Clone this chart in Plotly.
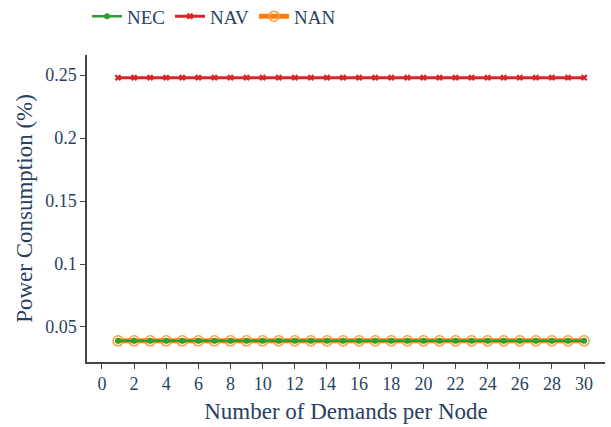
import plotly.graph_objects as go

demands = list(range(1, 31))
nec = [0.039] * 30
nav = [0.248] * 30
nan_ = [0.039] * 30

fig = go.Figure()
fig.add_trace(go.Scatter(x=demands, y=nan_, name="NAN", mode="lines+markers", legendrank=3,
                         line=dict(color="#ff7f0e", width=5),
                         marker=dict(symbol="circle-open", size=10, color="#ff9a45", line=dict(width=1.5))))
fig.add_trace(go.Scatter(x=demands, y=nec, name="NEC", mode="lines+markers", legendrank=1,
                         line=dict(color="#2ca02c", width=2.5),
                         marker=dict(symbol="circle", size=6, color="#2ca02c")))
fig.add_trace(go.Scatter(x=demands, y=nav, name="NAV", mode="lines+markers", legendrank=2,
                         line=dict(color="#d62728", width=3),
                         marker=dict(symbol="x", size=6, color="#d62728")))

fig.update_layout(
    width=611, height=434,
    margin=dict(l=87, r=6, t=62, b=65),
    plot_bgcolor="white", paper_bgcolor="white",
    font=dict(family="Liberation Serif", size=18, color="#2a3f5f"),
    legend=dict(orientation="h", x=0.0, y=0.99, yref="container", xanchor="left", yanchor="top",
                font=dict(size=19), itemwidth=30),
    xaxis=dict(title=dict(text="Number of Demands per Node", font=dict(size=23), standoff=10),
               range=[-0.93, 31.3], tickmode="linear", tick0=0, dtick=2, automargin=False,
               showline=True, linecolor="#444", linewidth=1.5, ticks="outside",
               tickcolor="#444", ticklen=5, showgrid=False, zeroline=False),
    yaxis=dict(title=dict(text="Power Consumption (%)", font=dict(size=23), standoff=6),
               range=[0.0222, 0.266], tickvals=[0.05, 0.1, 0.15, 0.2, 0.25],
               ticktext=["0.05", "0.1", "0.15", "0.2", "0.25"], automargin=False,
               showline=True, linecolor="#444", linewidth=1.5, ticks="outside",
               tickcolor="#444", ticklen=5, showgrid=False, zeroline=False),
)
fig.write_html("out.html", config={"displayModeBar": False},
               post_script="document.body.style.margin='0'; document.body.style.marginTop='-7px';")
